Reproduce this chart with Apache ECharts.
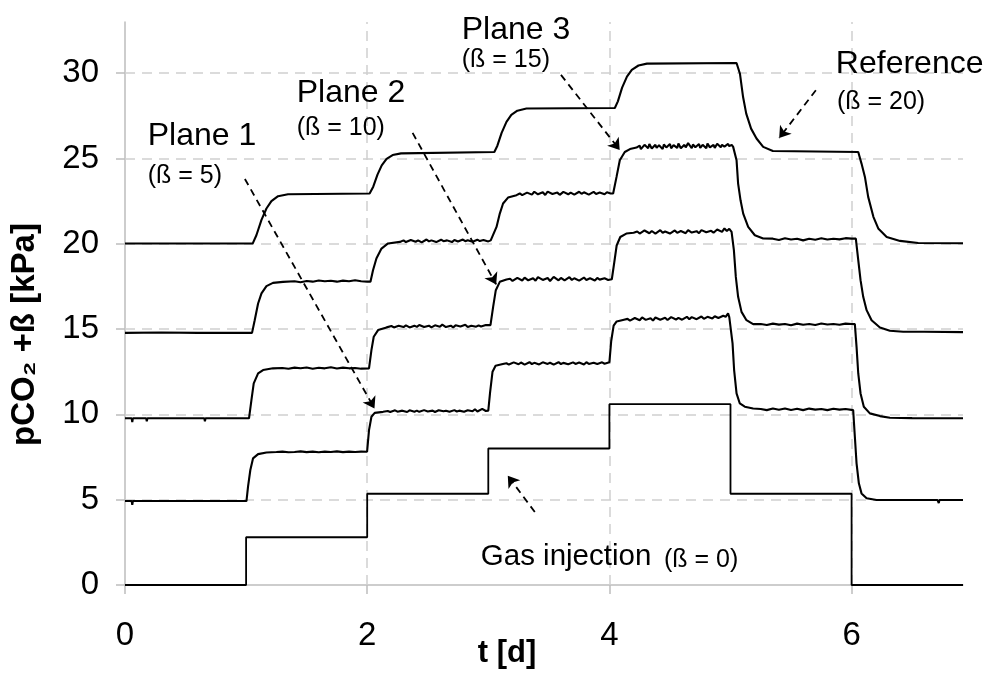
<!DOCTYPE html>
<html><head><meta charset="utf-8">
<script src="https://cdn.jsdelivr.net/npm/echarts@6/dist/echarts.min.js"></script>
<style>html,body{margin:0;padding:0;background:#fff}#c{width:1000px;height:686px}</style>
</head><body><div id="c"></div>
<script>
// ---- data ----
const xTicks = [0, 2, 4, 6];
const yTicks = [0, 5, 10, 15, 20, 25, 30];
const xGrid = [2, 4, 6];
const yGrid = [5, 10, 15, 20, 25, 30];

const gasInjection = [[0,0],[1,0],[1,2.8],[2,2.8],[2,5.35],[3,5.35],[3,8.0],[4,8.0],[4,10.6],[5,10.6],[5,5.35],[6,5.35],[6,0],[6.92,0]];

const plane1 = [[0,4.92],[0.055,4.92],[0.06,4.7],[0.065,4.92],[1.003,4.92],
[1.016,5.76],[1.035,6.74],[1.057,7.42],[1.099,7.67],[1.168,7.77],
[1.25,7.8],[1.3,7.82],[1.35,7.78],[1.4,7.8],[1.45,7.83],[1.5,7.79],[1.55,7.82],[1.6,7.78],[1.65,7.82],[1.7,7.8],[1.75,7.83],[1.8,7.79],[1.85,7.82],[1.9,7.8],[1.95,7.82],[1.999,7.81],
[2.015,9.08],[2.035,9.86],[2.062,10.09],[2.131,10.15],
[2.17,10.2],[2.19,10.14],[2.23,10.24],[2.25,10.16],[2.29,10.22],[2.33,10.14],[2.35,10.24],[2.39,10.16],[2.41,10.22],[2.43,10.15],[2.47,10.25],[2.5,10.17],[2.54,10.22],[2.56,10.14],[2.59,10.24],[2.63,10.18],[2.65,10.22],[2.68,10.15],[2.72,10.25],[2.74,10.17],[2.76,10.22],[2.8,10.15],[2.83,10.24],[2.87,10.18],[2.89,10.3],[2.91,10.17],[2.95,10.32],[2.98,10.2],[3.0,10.22],
[3.015,11.3],[3.035,12.5],[3.06,12.85],[3.12,12.95],
[3.15,13.0],[3.17,12.92],[3.21,13.05],[3.25,12.94],[3.27,13.04],[3.3,12.92],[3.34,13.06],[3.36,12.95],[3.38,13.02],[3.42,12.93],[3.45,13.05],[3.49,12.96],[3.51,13.03],[3.54,12.92],[3.58,13.06],[3.6,12.95],[3.62,13.02],[3.66,12.94],[3.7,13.05],[3.72,12.96],[3.75,13.04],[3.79,12.93],[3.81,13.06],[3.83,12.96],[3.87,13.03],[3.9,12.95],[3.94,13.05],[3.96,12.97],[4.0,13.05],
[4.015,14.3],[4.035,15.2],[4.06,15.45],[4.12,15.55],
[4.15,15.6],[4.17,15.5],[4.21,15.65],[4.25,15.52],[4.27,15.68],[4.3,15.54],[4.34,15.64],[4.36,15.5],[4.38,15.68],[4.42,15.55],[4.46,15.66],[4.48,15.53],[4.51,15.7],[4.55,15.56],[4.57,15.66],[4.6,15.55],[4.64,15.72],[4.66,15.58],[4.68,15.7],[4.72,15.58],[4.76,15.74],[4.78,15.6],[4.81,15.72],[4.85,15.62],[4.87,15.75],[4.9,15.65],[4.94,15.78],[4.96,15.72],[4.98,15.92],[4.99,15.7],[5.003,15.72],
[5.017,14.16],[5.03,12.6],[5.05,11.23],[5.077,10.64],[5.118,10.45],[5.187,10.35],
[5.25,10.32],[5.3,10.25],[5.35,10.34],[5.4,10.27],[5.45,10.35],[5.5,10.26],[5.55,10.33],[5.6,10.25],[5.65,10.34],[5.7,10.28],[5.75,10.32],[5.8,10.25],[5.85,10.33],[5.9,10.28],[5.95,10.32],[6.013,10.25],
[6.027,8.69],[6.041,7.13],[6.06,5.96],[6.082,5.37],[6.124,5.08],[6.206,4.98],[6.5,4.98],[6.71,4.98],[6.72,4.8],[6.725,4.98],[6.92,4.98]];

const plane2 = [[0,9.77],[0.055,9.77],[0.06,9.55],[0.065,9.77],[0.175,9.77],[0.18,9.6],[0.185,9.77],[0.655,9.77],[0.66,9.6],[0.665,9.77],[1.024,9.77],
[1.044,10.84],[1.063,11.82],[1.099,12.4],[1.14,12.6],[1.222,12.7],
[1.3,12.72],[1.35,12.68],[1.4,12.74],[1.45,12.7],[1.5,12.75],[1.55,12.68],[1.6,12.73],[1.65,12.7],[1.7,12.76],[1.75,12.69],[1.8,12.74],[1.85,12.7],[1.9,12.72],[1.95,12.68],[2.015,12.7],
[2.035,13.77],[2.054,14.55],[2.09,14.94],[2.16,15.1],
[2.2,15.18],[2.22,15.1],[2.26,15.2],[2.3,15.12],[2.32,15.22],[2.35,15.1],[2.39,15.2],[2.41,15.13],[2.43,15.24],[2.47,15.12],[2.51,15.2],[2.53,15.1],[2.56,15.22],[2.6,15.14],[2.62,15.26],[2.65,15.12],[2.69,15.2],[2.71,15.1],[2.73,15.22],[2.77,15.15],[2.81,15.25],[2.83,15.12],[2.86,15.2],[2.9,15.14],[2.92,15.22],[2.94,15.15],[2.98,15.24],[3.018,15.23],
[3.04,16.3],[3.062,17.28],[3.095,17.77],[3.15,17.91],
[3.18,17.95],[3.2,17.82],[3.24,18.0],[3.28,17.85],[3.3,18.02],[3.33,17.86],[3.37,17.98],[3.39,17.84],[3.41,18.05],[3.45,17.88],[3.49,18.0],[3.51,17.82],[3.54,18.06],[3.58,17.86],[3.6,18.0],[3.63,17.85],[3.67,18.04],[3.69,17.88],[3.71,17.98],[3.75,17.84],[3.79,18.02],[3.81,17.88],[3.84,17.98],[3.88,17.85],[3.9,18.0],[3.92,17.9],[3.96,17.98],[3.99,17.88],[4.02,17.92],
[4.04,18.9],[4.06,19.9],[4.09,20.4],[4.14,20.6],[4.2,20.65],
[4.23,20.72],[4.25,20.6],[4.29,20.78],[4.33,20.62],[4.35,20.75],[4.38,20.6],[4.42,20.8],[4.44,20.65],[4.46,20.72],[4.5,20.6],[4.54,20.78],[4.56,20.64],[4.59,20.75],[4.63,20.62],[4.65,20.8],[4.68,20.66],[4.72,20.74],[4.74,20.62],[4.76,20.8],[4.8,20.68],[4.84,20.76],[4.86,20.65],[4.89,20.84],[4.93,20.7],[4.95,20.9],[4.97,20.75],[4.99,20.88],[5.009,20.7],
[5.028,19.63],[5.044,18.06],[5.063,16.89],[5.091,16.01],[5.132,15.52],[5.187,15.29],
[5.25,15.3],[5.3,15.24],[5.35,15.32],[5.4,15.26],[5.45,15.3],[5.5,15.22],[5.55,15.32],[5.6,15.25],[5.65,15.3],[5.7,15.24],[5.75,15.33],[5.8,15.27],[5.85,15.3],[5.9,15.25],[5.95,15.32],[6.0,15.3],[6.027,15.29],
[6.041,13.96],[6.055,12.4],[6.074,11.23],[6.101,10.45],[6.151,10.06],[6.234,9.9],[6.316,9.8],[6.5,9.78],[6.92,9.77]];

const plane3 = [[0,14.78],[0.3,14.8],[0.6,14.78],[1.049,14.78],
[1.071,15.52],[1.099,16.5],[1.127,17.09],[1.168,17.52],[1.222,17.71],[1.305,17.77],
[1.4,17.8],[1.45,17.75],[1.5,17.82],[1.55,17.78],[1.6,17.85],[1.65,17.8],[1.7,17.83],[1.75,17.78],[1.8,17.84],[1.85,17.8],[1.9,17.86],[1.95,17.8],[2.0,17.78],[2.027,17.78],
[2.048,18.45],[2.076,19.14],[2.118,19.72],[2.172,20.02],[2.27,20.11],
[2.3,20.2],[2.32,20.1],[2.36,20.22],[2.4,20.12],[2.42,20.2],[2.45,20.08],[2.49,20.25],[2.51,20.14],[2.53,20.2],[2.57,20.1],[2.61,20.24],[2.63,20.15],[2.66,20.2],[2.7,20.1],[2.72,20.22],[2.75,20.13],[2.79,20.25],[2.81,20.15],[2.83,20.21],[2.87,20.12],[2.91,20.24],[2.93,20.16],[2.96,20.22],[3.0,20.14],[3.02,20.2],[3.035,20.2],
[3.068,20.99],[3.095,21.77],[3.122,22.36],[3.163,22.71],[3.233,22.85],
[3.26,22.95],[3.28,22.85],[3.32,23.0],[3.36,22.88],[3.38,23.05],[3.41,22.9],[3.45,23.02],[3.47,22.86],[3.49,23.06],[3.53,22.92],[3.57,23.0],[3.59,22.87],[3.62,23.04],[3.66,22.9],[3.68,23.0],[3.71,22.88],[3.75,23.05],[3.77,22.93],[3.79,23.02],[3.83,22.88],[3.87,23.04],[3.89,22.92],[3.92,23.0],[3.96,22.9],[3.98,23.02],[4.01,22.95],[4.031,22.95],
[4.059,23.92],[4.086,24.9],[4.127,25.38],[4.17,25.55],[4.224,25.64],
[4.25,25.75],[4.26,25.55],[4.29,25.8],[4.32,25.6],[4.33,25.85],[4.35,25.58],[4.38,25.8],[4.39,25.62],[4.41,25.78],[4.44,25.55],[4.45,25.82],[4.47,25.65],[4.5,25.85],[4.51,25.6],[4.53,25.78],[4.56,25.62],[4.57,25.88],[4.59,25.6],[4.62,25.8],[4.63,25.65],[4.65,25.9],[4.68,25.6],[4.69,25.82],[4.71,25.66],[4.74,25.85],[4.75,25.62],[4.77,25.8],[4.8,25.6],[4.81,25.88],[4.83,25.65],[4.86,25.8],[4.87,25.62],[4.89,25.86],[4.92,25.66],[4.93,25.8],[4.95,25.7],[4.98,25.85],[4.99,25.72],[5.01,25.8],[5.022,25.68],
[5.05,24.9],[5.063,23.53],[5.083,22.55],[5.105,21.77],[5.146,20.99],[5.201,20.5],[5.27,20.31],
[5.35,20.3],[5.4,20.22],[5.45,20.32],[5.5,20.25],[5.55,20.3],[5.6,20.2],[5.65,20.3],[5.7,20.24],[5.75,20.32],[5.8,20.25],[5.85,20.3],[5.9,20.26],[5.95,20.33],[6.0,20.3],[6.035,20.3],
[6.055,19.04],[6.074,17.87],[6.096,16.89],[6.124,16.11],[6.165,15.52],[6.234,15.09],[6.316,14.9],[6.426,14.84],[6.6,14.84],[6.92,14.82]];

const reference = [[0,20.02],[1.055,20.02],[1.085,20.5],[1.127,21.4],[1.168,22.07],[1.209,22.5],[1.264,22.79],[1.346,22.9],[2.02,22.95],
[2.05,23.35],[2.085,24.05],[2.12,24.6],[2.16,24.98],[2.21,25.2],[2.28,25.3],[3.05,25.38],
[3.075,25.75],[3.11,26.5],[3.15,27.15],[3.19,27.55],[3.24,27.8],[3.315,27.93],[4.045,27.96],
[4.07,28.35],[4.105,29.15],[4.145,29.8],[4.185,30.2],[4.24,30.45],[4.31,30.56],[5.05,30.6],
[5.078,29.97],[5.104,28.6],[5.13,27.63],[5.17,26.75],[5.215,26.17],[5.27,25.68],[5.35,25.44],[6.055,25.38],
[6.082,24.7],[6.11,23.92],[6.137,22.75],[6.18,21.58],[6.22,20.9],[6.29,20.4],[6.4,20.17],[6.55,20.05],[6.92,20.03]];

// annotation texts (anchored at left-middle, data coordinates)
const mainLabels = [
  {text: 'Plane 1', at: [0.188, 26.3]},
  {text: 'Plane 2', at: [1.418, 28.85]},
  {text: 'Plane 3', at: [2.781, 32.55]},
  {text: 'Reference', at: [5.87, 30.5]}
];
const gasLabel = [{text: 'Gas injection', at: [2.938, 1.66]}];
const subLabels = [
  {text: '(ß = 5)', at: [0.188, 23.95]},
  {text: '(ß = 10)', at: [1.418, 26.8]},
  {text: '(ß = 15)', at: [2.781, 30.75]},
  {text: '(ß = 20)', at: [5.879, 28.3]},
  {text: '(ß = 0)', at: [4.45, 1.48]}
];
// dashed arrows: [from, to]
const arrows = [
  [[0.99, 23.8], [2.06, 10.35]],
  [[2.375, 26.5], [3.065, 17.62]],
  [[3.60, 29.9], [4.085, 25.5]],
  [[5.705, 29.0], [5.402, 26.2]],
  [[3.384, 4.28], [3.161, 6.4]]
];

// ---- chart ----
const chart = echarts.init(document.getElementById('c'), null, {renderer: 'canvas'});
const FONT = 'Arial, "Liberation Sans", sans-serif';
const lineSeries = (data, w) => ({
  type: 'line', data: data, showSymbol: false, symbol: 'none', silent: true,
  lineStyle: {color: '#000', width: w}, z: 5, animation: false
});

chart.setOption({
  animation: false,
  backgroundColor: '#fff',
  grid: {left: 125, right: 37, top: 22, bottom: 101, containLabel: false, outerBoundsMode: 'none'},
  xAxis: {
    type: 'value', min: 0, max: 6.92,
    name: 't [d]', nameLocation: 'middle', nameGap: 53, nameMoveOverlap: false,
    nameTextStyle: {fontFamily: FONT, fontSize: 31, fontWeight: 'bold', color: '#000', padding: [0, 74, 0, 0]},
    axisLine: {show: true, lineStyle: {color: '#bdbdbd', width: 1.5}},
    axisTick: {show: true, length: 9, inside: false, customValues: xTicks, lineStyle: {color: '#bdbdbd', width: 1.5}},
    axisLabel: {customValues: xTicks, fontFamily: FONT, fontSize: 33, color: '#000', margin: 34},
    splitLine: {show: false}
  },
  yAxis: {
    type: 'value', min: 0, max: 33,
    name: 'pCO₂ +ß [kPa]', nameLocation: 'middle', nameGap: 84, nameRotate: 90, nameMoveOverlap: false,
    nameTextStyle: {fontFamily: FONT, fontSize: 33, fontWeight: 'bold', color: '#000', padding: [0, 62, 0, 0]},
    axisLine: {show: true, lineStyle: {color: '#bdbdbd', width: 1.5}},
    axisTick: {show: true, length: 9, inside: false, customValues: yTicks, lineStyle: {color: '#bdbdbd', width: 1.5}},
    axisLabel: {customValues: yTicks, fontFamily: FONT, fontSize: 33, color: '#000', margin: 26},
    splitLine: {show: false}
  },
  series: [
    {
      type: 'line', data: [], silent: true, z: 1,
      markLine: {
        silent: true, symbol: ['none', 'none'], animation: false,
        label: {show: false},
        lineStyle: {color: '#cfcfcf', width: 1.5, type: [10, 7]},
        data: xGrid.map(v => ({xAxis: v})).concat(yGrid.map(v => ({yAxis: v})))
      }
    },
    lineSeries(gasInjection, 1.8),
    lineSeries(plane1, 2.1),
    lineSeries(plane2, 2.1),
    lineSeries(plane3, 2.1),
    lineSeries(reference, 2.1),
    {
      type: 'line', data: [], silent: true, z: 6,
      markLine: {
        silent: true, symbol: ['none', 'arrow'], symbolSize: 11, animation: false,
        label: {show: false},
        lineStyle: {color: '#000', width: 1.8, type: [7, 5]},
        data: arrows.map(a => [{coord: a[0]}, {coord: a[1]}])
      }
    }
  ]
});

// annotation texts placed through the chart's own coordinate conversion
const toText = (items, size) => items.map(l => {
  const p = chart.convertToPixel({gridIndex: 0}, l.at);
  return {type: 'text', x: p[0], y: p[1], z: 100, silent: true,
    style: {text: l.text, fill: '#000', font: size + 'px ' + FONT, textAlign: 'left', textVerticalAlign: 'middle'}};
});
chart.setOption({graphic: [].concat(toText(mainLabels, 32), toText(gasLabel, 29.5), toText(subLabels, 25))});
</script>
</body></html>
